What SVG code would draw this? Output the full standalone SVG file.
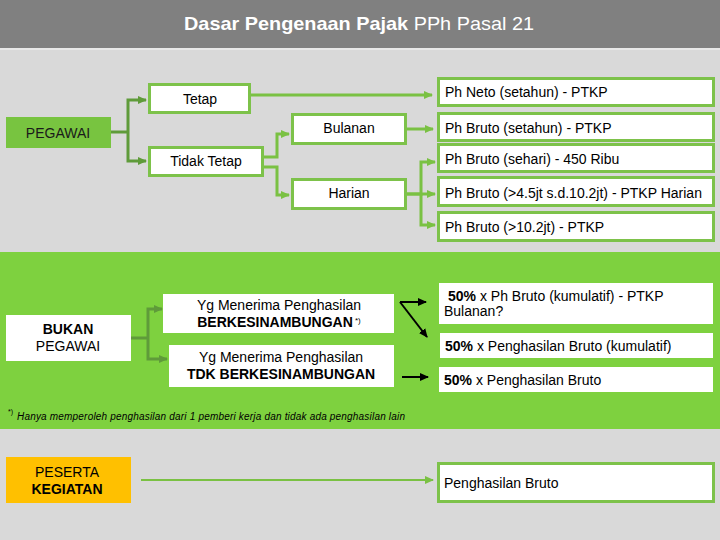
<svg xmlns="http://www.w3.org/2000/svg" width="720" height="540" viewBox="0 0 720 540">
<defs>
<style>
text{font-family:"Liberation Sans",Arial,sans-serif;font-size:14px;fill:#000}
.c{text-anchor:middle}
.b{font-weight:bold}
.box{fill:#fff;stroke:#7dc24a;stroke-width:3}
.wb{fill:#fff}
.dk{fill:none;stroke:#5f9b3a;stroke-width:3}
.lt{fill:none;stroke:#7ac143;stroke-width:3}
.bk{fill:none;stroke:#000;stroke-width:2}
</style>
<marker id="ad" markerUnits="userSpaceOnUse" markerWidth="10" markerHeight="10" refX="8" refY="5" orient="auto"><path d="M0,1 L9,5 L0,9 Z" fill="#5f9b3a"/></marker>
<marker id="al" markerUnits="userSpaceOnUse" markerWidth="10" markerHeight="10" refX="8" refY="5" orient="auto"><path d="M0,1 L9,5 L0,9 Z" fill="#7ac143"/></marker>
<marker id="ab" markerUnits="userSpaceOnUse" markerWidth="10" markerHeight="10" refX="8" refY="5" orient="auto"><path d="M0,1 L9,5 L0,9 Z" fill="#000"/></marker>
</defs>
<rect x="0" y="0" width="720" height="540" fill="#d9d9d9"/>
<g id="title">
<rect x="0" y="0" width="720" height="48" fill="#808080"/>
<rect x="0" y="48" width="720" height="2" fill="#e8e8e8"/>
<text x="184" y="30" style="font-size:19px;fill:#fff" textLength="350" lengthAdjust="spacingAndGlyphs"><tspan class="b" style="fill:#fff">Dasar Pengenaan Pajak</tspan> PPh Pasal 21</text>
</g>
<rect x="0" y="252" width="720" height="177" fill="#7ed13f"/>
<g id="connectors">
<path class="dk" d="M111,132 H128"/>
<path class="dk" d="M128,132 V100 H146" marker-end="url(#ad)"/>
<path class="dk" d="M128,132 V161 H146" marker-end="url(#ad)"/>
<path class="lt" d="M264,157 H277 V134 H289" marker-end="url(#al)"/>
<path class="lt" d="M264,167 H277 V195 H289" marker-end="url(#al)"/>
<path class="lt" d="M251,95 H432" marker-end="url(#al)"/>
<path class="lt" d="M407,129 H433" marker-end="url(#al)"/>
<path class="lt" d="M407,194 H421 V162 H435" marker-end="url(#al)"/>
<path class="lt" d="M407,194 H435" marker-end="url(#al)"/>
<path class="lt" d="M421,194 V225 H435" marker-end="url(#al)"/>
<path class="dk" d="M131,338 H148"/>
<path class="dk" d="M148,338 V309 H162" marker-end="url(#ad)"/>
<path class="dk" d="M148,338 V359 H167" marker-end="url(#ad)"/>
<path class="bk" d="M400,302 H426" marker-end="url(#ab)"/>
<path class="bk" d="M400,302 L427,337" marker-end="url(#ab)"/>
<path class="bk" d="M402,377 H428" marker-end="url(#ab)"/>
<path class="lt" style="stroke-width:2" d="M141,480 H433" marker-end="url(#al)"/>
</g>
<g id="pegawai"><rect x="6" y="117" width="105" height="31" fill="#78c440"/><text x="58" y="138" class="c" style="fill:#1a1a1a">PEGAWAI</text></g>
<g id="tetap"><rect class="box" x="149.5" y="84.5" width="100" height="28"/><text x="200" y="104" class="c">Tetap</text></g>
<g id="tidak-tetap"><rect class="box" x="149.5" y="147.5" width="113" height="28"/><text x="206" y="166" class="c">Tidak Tetap</text></g>
<g id="bulanan"><rect class="box" x="292.5" y="114.5" width="113" height="29"/><text x="349" y="133" class="c">Bulanan</text></g>
<g id="harian"><rect class="box" x="292.5" y="179.5" width="113" height="29"/><text x="349" y="198" class="c">Harian</text></g>
<g id="r1"><rect class="box" x="438.5" y="78.5" width="275" height="27"/><text x="445" y="97">Ph Neto (setahun) - PTKP</text></g>
<g id="r2"><rect class="box" x="438.5" y="113.5" width="275" height="27"/><text x="445" y="133">Ph Bruto (setahun) - PTKP</text></g>
<g id="r3"><rect class="box" x="438.5" y="144.5" width="275" height="27"/><text x="445" y="164">Ph Bruto (sehari) - 450 Ribu</text></g>
<g id="r4"><rect class="box" x="438.5" y="177.5" width="275" height="28"/><text x="445" y="198">Ph Bruto (&gt;4.5jt s.d.10.2jt) - PTKP Harian</text></g>
<g id="r5"><rect class="box" x="438.5" y="212.5" width="275" height="28"/><text x="445" y="232">Ph Bruto (&gt;10.2jt) - PTKP</text></g>
<g id="bukan-pegawai"><rect class="wb" x="6" y="315" width="125" height="46"/><text x="68" y="334" class="c b">BUKAN</text><text x="68" y="351" class="c">PEGAWAI</text></g>
<g id="berkesinambungan"><rect class="wb" x="163" y="294" width="231" height="39"/><text x="279" y="310" class="c">Yg Menerima Penghasilan</text><text x="279" y="327" class="c"><tspan class="b">BERKESINAMBUNGAN</tspan><tspan style="font-size:8px" dy="-4"> *)</tspan></text></g>
<g id="tdk-berkesinambungan"><rect class="wb" x="169" y="345" width="225" height="42"/><text x="281" y="362" class="c">Yg Menerima Penghasilan</text><text x="281" y="379" class="c b">TDK BERKESINAMBUNGAN</text></g>
<g id="ra"><rect class="wb" x="439" y="283" width="274" height="41"/><text x="448" y="301"><tspan class="b">50%</tspan> x Ph Bruto (kumulatif) - PTKP</text><text x="444" y="316">Bulanan?</text></g>
<g id="rb"><rect class="wb" x="440" y="333" width="273" height="25"/><text x="445" y="351"><tspan class="b">50%</tspan> x Penghasilan Bruto (kumulatif)</text></g>
<g id="rc"><rect class="wb" x="439" y="367" width="274" height="25"/><text x="444" y="385"><tspan class="b">50%</tspan> x Penghasilan Bruto</text></g>
<g id="footnote"><text x="8" y="414" style="font-size:7px">*)</text><text x="17" y="420" style="font-size:10px;font-style:italic" textLength="388" lengthAdjust="spacing">Hanya memperoleh penghasilan dari 1 pemberi kerja dan tidak ada penghasilan lain</text></g>
<g id="peserta"><rect x="6" y="457" width="125" height="46" fill="#ffc000"/><text x="67" y="477" class="c">PESERTA</text><text x="67" y="494" class="c b">KEGIATAN</text></g>
<g id="penghasilan-bruto"><rect class="box" x="438.5" y="463.5" width="275" height="38"/><text x="444" y="488">Penghasilan Bruto</text></g>
</svg>
